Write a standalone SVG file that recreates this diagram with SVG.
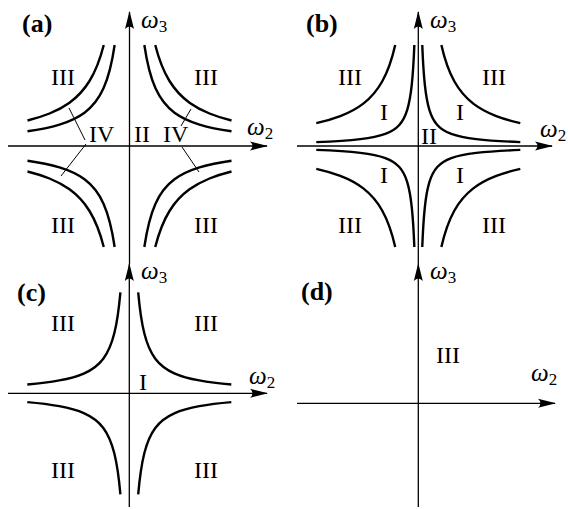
<svg xmlns="http://www.w3.org/2000/svg" width="568" height="509" viewBox="0 0 568 509">
<style>
text{font-family:"Liberation Serif","Times New Roman",serif;fill:#000}
.r{font-size:24px}
.p{font-size:26px;font-weight:bold}
.w{font-size:25px;font-style:italic}
.s{font-size:17px;font-style:normal}
.ax{stroke:#000;stroke-width:1.3;fill:none;marker-end:url(#ah)}
.cv{stroke:#000;stroke-width:2.4;fill:none}
.ld{stroke:#000;stroke-width:1;fill:none}
</style>
<defs>
<marker id="ah" markerUnits="userSpaceOnUse" markerWidth="18" markerHeight="10" viewBox="0 0 18 10" refX="17" refY="5" orient="auto"><path d="M18,5 L0,0.5 Q5,5 0,9.5 Z" fill="#000"/></marker>
<path id="qa1" d="M14.85,-101 C18.57,-75.72 22.28,-65.94 26,-57.69 C32.33,-43.64 38.67,-38.02 45,-33.33 C53.33,-27.16 61.67,-23.98 70,-21.43 C80.67,-18.16 91.33,-16.24 102,-14.71"/>
<path id="qa2" d="M25.74,-101 C30.49,-82.35 35.25,-72.72 40,-65 C46.67,-54.17 53.33,-48.15 60,-43.33 C66.67,-38.52 73.33,-35.21 80,-32.5 C87.33,-29.52 94.67,-27.32 102,-25.49"/>
<path id="qb1" d="M3.96,-101 C4.81,-79.4 5.65,-69.56 6.5,-61.54 C8,-47.34 9.5,-41.32 11,-36.36 C13.67,-27.54 16.33,-24.01 19,-21.05 C23.67,-15.88 28.33,-13.84 33,-12.12 C41.33,-9.06 49.67,-7.89 58,-6.9 C72.67,-5.15 87.33,-4.49 102,-3.92"/>
<path id="qb2" d="M23.07,-101 C27.38,-82.13 31.69,-72.47 36,-64.72 C42.33,-53.33 48.67,-47.24 55,-42.36 C62.67,-36.46 70.33,-32.81 78,-29.87 C86,-26.81 94,-24.63 102,-22.84"/>
<path id="qc1" d="M8.91,-101 C10.94,-77.98 12.97,-68.12 15,-60 C18.67,-45.33 22.33,-39.5 26,-34.62 C32.33,-26.19 38.67,-22.81 45,-20 C53.33,-16.3 61.67,-14.39 70,-12.86 C80.67,-10.9 91.33,-9.75 102,-8.82"/>
</defs>

<g id="panel-a">
  <g id="a-axes">
    <path class="ax" d="M8,146 H267"/>
    <path class="ax" d="M129.5,264 V12"/>
  </g>
  <g id="a-curves" class="cv" transform="translate(129.5,146)">
    <use href="#qa1"/><use href="#qa2"/>
    <use href="#qa1" transform="scale(-1,1)"/><use href="#qa2" transform="scale(-1,1)"/>
    <use href="#qa1" transform="scale(1,-1)"/><use href="#qa2" transform="scale(1,-1)"/>
    <use href="#qa1" transform="scale(-1,-1)"/><use href="#qa2" transform="scale(-1,-1)"/>
  </g>
  <g id="a-leaders" class="ld">
    <path d="M69,108 L85,140"/>
    <path d="M86,144 L61,176"/>
    <path d="M191,109 L181,126"/>
    <path d="M182,147 L199,172"/>
  </g>
  <text class="p" x="22" y="32">(a)</text>
  <text class="w" x="141" y="28">ω<tspan class="s" dy="4">3</tspan></text>
  <text class="w" x="247" y="135">ω<tspan class="s" dy="4">2</tspan></text>
  <text class="r" x="51" y="85">III</text>
  <text class="r" x="194" y="85">III</text>
  <text class="r" x="51" y="233">III</text>
  <text class="r" x="194" y="233">III</text>
  <text class="r" x="89" y="142">IV</text>
  <text class="r" x="134" y="142">II</text>
  <text class="r" x="163" y="142">IV</text>
</g>

<g id="panel-b">
  <g id="b-axes">
    <path class="ax" d="M297,146 H552"/>
    <path class="ax" d="M418.3,264 V12"/>
  </g>
  <g id="b-curves" class="cv" transform="translate(418.3,146)">
    <use href="#qb1"/><use href="#qb2"/>
    <use href="#qb1" transform="scale(-1,1)"/><use href="#qb2" transform="scale(-1,1)"/>
    <use href="#qb1" transform="scale(1,-1)"/><use href="#qb2" transform="scale(1,-1)"/>
    <use href="#qb1" transform="scale(-1,-1)"/><use href="#qb2" transform="scale(-1,-1)"/>
  </g>
  <text class="p" x="306" y="32">(b)</text>
  <text class="w" x="430" y="28">ω<tspan class="s" dy="4">3</tspan></text>
  <text class="w" x="540" y="137">ω<tspan class="s" dy="4">2</tspan></text>
  <text class="r" x="338" y="85">III</text>
  <text class="r" x="482" y="85">III</text>
  <text class="r" x="338" y="233">III</text>
  <text class="r" x="482" y="233">III</text>
  <text class="r" x="380" y="120">I</text>
  <text class="r" x="456" y="120">I</text>
  <text class="r" x="380" y="183">I</text>
  <text class="r" x="456" y="183">I</text>
  <text class="r" x="421" y="144">II</text>
</g>

<g id="panel-c">
  <g id="c-axes">
    <path class="ax" d="M8,393.3 H267"/>
    <path class="ax" d="M129.3,507 V264"/>
  </g>
  <g id="c-curves" class="cv" transform="translate(129.3,393.3)">
    <use href="#qc1"/>
    <use href="#qc1" transform="scale(-1,1)"/>
    <use href="#qc1" transform="scale(1,-1)"/>
    <use href="#qc1" transform="scale(-1,-1)"/>
  </g>
  <text class="p" x="17" y="301">(c)</text>
  <text class="w" x="141" y="279">ω<tspan class="s" dy="4">3</tspan></text>
  <text class="w" x="249" y="384">ω<tspan class="s" dy="4">2</tspan></text>
  <text class="r" x="51" y="331">III</text>
  <text class="r" x="194" y="331">III</text>
  <text class="r" x="51" y="478">III</text>
  <text class="r" x="194" y="478">III</text>
  <text class="r" x="139" y="390">I</text>
</g>

<g id="panel-d">
  <g id="d-axes">
    <path class="ax" d="M297,403.3 H555"/>
    <path class="ax" d="M418.3,507 V264"/>
  </g>
  <text class="p" x="301" y="300">(d)</text>
  <text class="w" x="430" y="279">ω<tspan class="s" dy="4">3</tspan></text>
  <text class="w" x="531" y="381">ω<tspan class="s" dy="4">2</tspan></text>
  <text class="r" x="436" y="363">III</text>
</g>
</svg>
